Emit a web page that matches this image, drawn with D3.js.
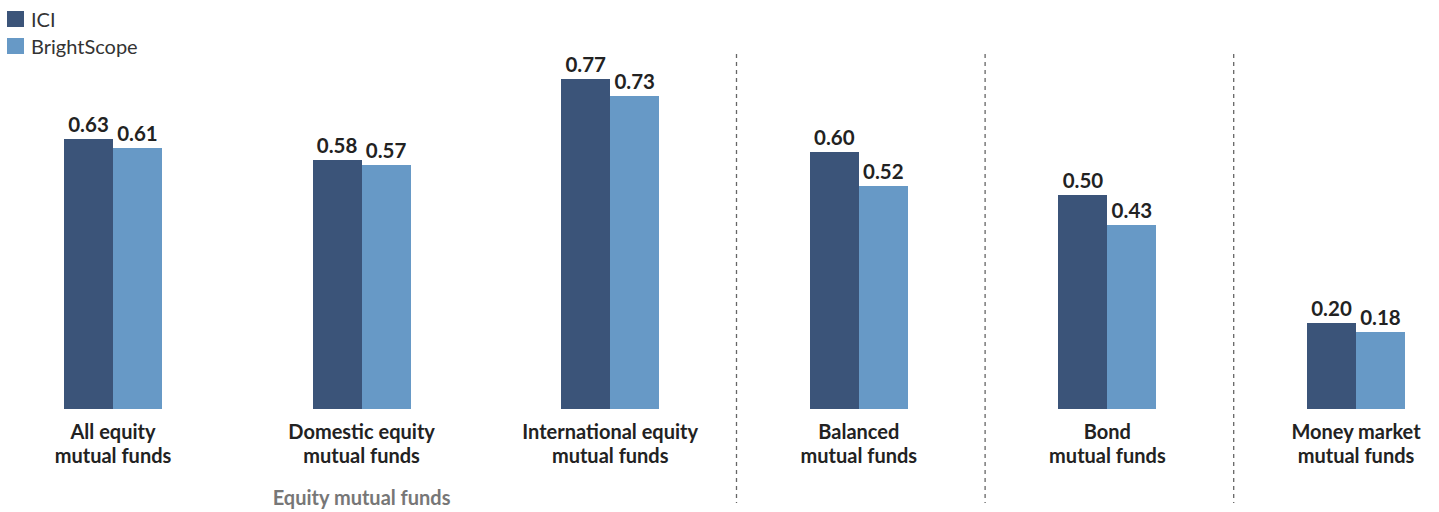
<!DOCTYPE html>
<html>
<head>
<meta charset="utf-8">
<script src="https://cdn.jsdelivr.net/npm/d3@7"></script>
<style>
  body { margin: 0; background: #fff; }
  svg text { font-family: Lato, "Open Sans", sans-serif; }
</style>
</head>
<body>
<div id="chart"></div>
<script>
const width = 1439;
const height = 512;

// data
const categories = [
  ['All equity', 'mutual funds'],
  ['Domestic equity', 'mutual funds'],
  ['International equity', 'mutual funds'],
  ['Balanced', 'mutual funds'],
  ['Bond', 'mutual funds'],
  ['Money market', 'mutual funds']
];
const seriesNames = ['ICI', 'BrightScope'];
const iciValues = [0.63, 0.58, 0.77, 0.60, 0.50, 0.20];
const brightScopeValues = [0.61, 0.57, 0.73, 0.52, 0.43, 0.18];
const colors = ['#3b5479', '#6799c6'];

const svg = d3.select('#chart')
  .append('svg')
  .attr('width', width)
  .attr('height', height);

const ids = categories.map((c, i) => i);

const x0 = d3.scalePoint()
  .domain(ids)
  .range([113, 1356]);

const x1 = d3.scaleBand()
  .domain(seriesNames)
  .range([-49, 49]);

const y = d3.scaleLinear()
  .domain([0, 0.77])
  .range([409, 79]);

const rows = ids.map(i => ({
  i,
  values: [iciValues[i], brightScopeValues[i]]
}));

// divider lines between equity group and the rest
[2, 3, 4].forEach(i => {
  const xm = (x0(i) + x0(i + 1)) / 2 + 2;
  svg.append('line')
    .attr('x1', xm).attr('x2', xm)
    .attr('y1', 54).attr('y2', 503)
    .attr('stroke', '#666')
    .attr('stroke-width', 1.3)
    .attr('stroke-dasharray', '4,4');
});

const groups = svg.selectAll('.group')
  .data(rows)
  .enter()
  .append('g')
  .attr('class', 'group')
  .attr('transform', d => `translate(${x0(d.i)},0)`);

groups.selectAll('rect')
  .data(d => d.values.map((v, k) => ({ v, name: seriesNames[k], k })))
  .enter()
  .append('rect')
  .attr('x', d => x1(d.name))
  .attr('width', x1.bandwidth())
  .attr('y', d => y(d.v))
  .attr('height', d => y(0) - y(d.v))
  .attr('fill', d => colors[d.k])
  .attr('shape-rendering', 'crispEdges');

groups.selectAll('.val')
  .data(d => d.values.map((v, k) => ({ v, name: seriesNames[k] })))
  .enter()
  .append('text')
  .attr('class', 'val')
  .attr('x', d => x1(d.name) + x1.bandwidth() / 2)
  .attr('y', d => y(d.v) - 7)
  .attr('text-anchor', 'middle')
  .attr('font-size', 20.5)
  .attr('font-weight', 'bold')
  .attr('fill', '#222')
  .text(d => d3.format('.2f')(d.v));

// category labels
groups.each(function(d) {
  const t = d3.select(this).append('text')
    .attr('text-anchor', 'middle')
    .attr('font-size', 20)
    .attr('font-weight', 'bold')
    .attr('fill', '#222');
  categories[d.i].forEach((line, j) => {
    t.append('tspan')
      .attr('x', 0)
      .attr('y', 439 + j * 24)
      .text(line);
  });
});

// group label
svg.append('text')
  .attr('x', x0(1))
  .attr('y', 505)
  .attr('text-anchor', 'middle')
  .attr('font-size', 20)
  .attr('font-weight', 'bold')
  .attr('fill', '#777')
  .text('Equity mutual funds');

// legend
const legend = svg.selectAll('.legend')
  .data(seriesNames)
  .enter()
  .append('g')
  .attr('class', 'legend')
  .attr('transform', (d, i) => `translate(7,${11 + i * 27})`);

legend.append('rect')
  .attr('width', 17)
  .attr('height', 16)
  .attr('fill', (d, i) => colors[i]);

legend.append('text')
  .attr('x', 24)
  .attr('y', 16)
  .attr('font-size', 20)
  .attr('fill', '#333')
  .text(d => d);
</script>
</body>
</html>
